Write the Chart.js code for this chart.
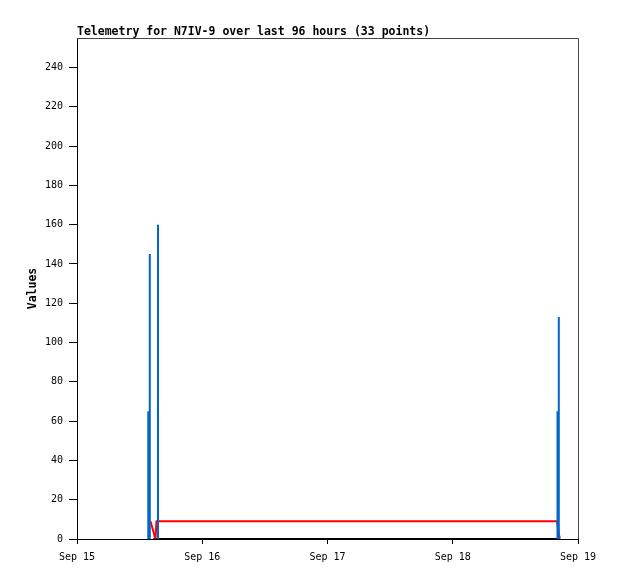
<!DOCTYPE html>
<html>
<head>
<meta charset="utf-8">
<script src="https://cdn.jsdelivr.net/npm/chart.js@4/dist/chart.umd.min.js"></script>
<style>
  html, body { margin: 0; padding: 0; background: #fff; }
  #wrap { width: 618px; height: 579px; }
</style>
</head>
<body>
<div id="wrap"><canvas id="c" width="618" height="579"></canvas></div>
<script>
// Hours since Sep 15 00:00
const titleText = 'Telemetry for N7IV-9 over last 96 hours (33 points)';
const xTickLabels = ['Sep 15', 'Sep 16', 'Sep 17', 'Sep 18', 'Sep 19'];
const yAxisLabel = 'Values';

// Blue series (impulses)
const blueHours  = [13.66, 13.95, 15.52, 92.07, 92.32];
const blueValues = [65, 145, 160, 65, 113];

// Red series (line)
const redHours  = [14.08, 15.04, 15.23, 91.98, 92.50];
const redValues = [9, 0, 9, 9, 0];

// Black series (line)
const blackHours  = [14.6, 92.1];
const blackValues = [0, 0];

function impulses(hs, vs) {
  const out = [];
  hs.forEach((h, i) => {
    out.push({x: h, y: 0});
    out.push({x: h, y: vs[i]});
    out.push({x: h, y: null});
  });
  return out;
}
function pairs(hs, vs) { return hs.map((h, i) => ({x: h, y: vs[i]})); }

const monoFont = "'DejaVu Sans Mono', 'Liberation Mono', monospace";

const framePlugin = {
  id: 'frame',
  afterDraw(chart) {
    const {ctx, chartArea: a} = chart;
    ctx.save();
    ctx.strokeStyle = '#444';
    ctx.lineWidth = 1;
    ctx.beginPath();
    ctx.moveTo(a.left, a.top + 0.5);
    ctx.lineTo(a.right + 0.5, a.top + 0.5);
    ctx.lineTo(a.right + 0.5, a.bottom);
    ctx.stroke();
    ctx.fillStyle = '#000';
    ctx.font = "bold 11.5px " + monoFont;
    ctx.textBaseline = 'alphabetic';
    ctx.textAlign = 'left';
    ctx.fillText(titleText, a.left, 35);
    ctx.restore();
  }
};

new Chart(document.getElementById('c'), {
  type: 'line',
  data: {
    datasets: [
      { data: impulses(blueHours, blueValues), borderColor: '#0066cc', borderWidth: 2, pointRadius: 0, spanGaps: false, order: 0 },
      { data: pairs(redHours, redValues), borderColor: '#ff0000', borderWidth: 2, pointRadius: 0, order: 1 },
      { data: pairs(blackHours, blackValues), borderColor: '#000000', borderWidth: 2, pointRadius: 0, order: 2 }
    ]
  },
  options: {
    responsive: false,
    animation: false,
    layout: { padding: { top: 38, right: 40, bottom: 0, left: 0 } },
    plugins: { legend: { display: false }, tooltip: { enabled: false }, title: { display: false } },
    scales: {
      x: {
        type: 'linear', min: 0, max: 96,
        afterFit(s) { s.height = 40; },
        border: { color: '#000', width: 1 },
        grid: { drawOnChartArea: false, drawTicks: true, tickLength: 5, color: '#000' },
        ticks: {
          stepSize: 24, maxRotation: 0, padding: 7, color: '#000',
          font: { family: monoFont, size: 10 },
          callback: (v) => xTickLabels[Math.round(v / 24)]
        }
      },
      y: {
        type: 'linear', min: 0, max: 255,
        afterFit(s) { s.width = 77; },
        border: { color: '#000', width: 1 },
        grid: { drawOnChartArea: false, drawTicks: true, tickLength: 8, color: '#000' },
        ticks: {
          stepSize: 20, includeBounds: false, padding: 6, color: '#000',
          font: { family: monoFont, size: 10 }
        },
        title: {
          display: true, text: yAxisLabel, color: '#000',
          font: { family: monoFont, size: 11.5, weight: 'bold' },
          padding: { top: 26, bottom: 0 }
        }
      }
    }
  },
  plugins: [framePlugin]
});
</script>
</body>
</html>
